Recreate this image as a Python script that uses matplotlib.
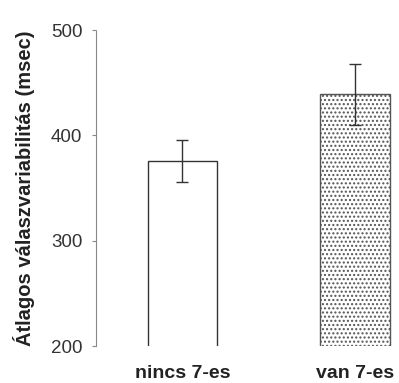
import matplotlib.pyplot as plt

groups = ["nincs 7-es", "van 7-es"]
means = [376, 439]
errors = [20, 29]

plt.rcParams["font.family"] = ["Liberation Sans", "DejaVu Sans"]

fig = plt.figure(figsize=(3.99, 3.83), dpi=100)
ax = fig.add_axes([0.241, 0.0966, 0.759, 0.825])

x = range(len(groups))
bars = ax.bar(x, means, width=0.405, bottom=0, color="white", edgecolor="#333333", linewidth=1.0)
bars[1].set_hatch("....")
bars[1].set_edgecolor("#555555")
ax.errorbar(x, means, yerr=errors, fmt="none", ecolor="#333333", elinewidth=1.0, capsize=4, capthick=1.0)

ax.set_ylim(200, 500)
ax.set_xlim(-0.5, 1.254)
ax.set_yticks([200, 300, 400, 500])
ax.set_xticks(list(x))
ax.set_xticklabels(groups, fontsize=14, fontweight="bold", color="#222222")
ax.set_ylabel("Átlagos válaszvariabilitás (msec)", fontsize=14.5, fontweight="bold", labelpad=11,
              color="#222222")

for s in ["top", "right", "bottom"]:
    ax.spines[s].set_visible(False)
ax.spines["left"].set_color("#888888")
ax.spines["left"].set_linewidth(0.8)
ax.spines["left"].set_linestyle((0, (4, 1)))
ax.tick_params(axis="y", labelsize=13.5, length=3, color="#888888", pad=7, labelcolor="#333333")
ax.tick_params(axis="x", length=0, pad=14)

fig.savefig("out.png", dpi=100)
